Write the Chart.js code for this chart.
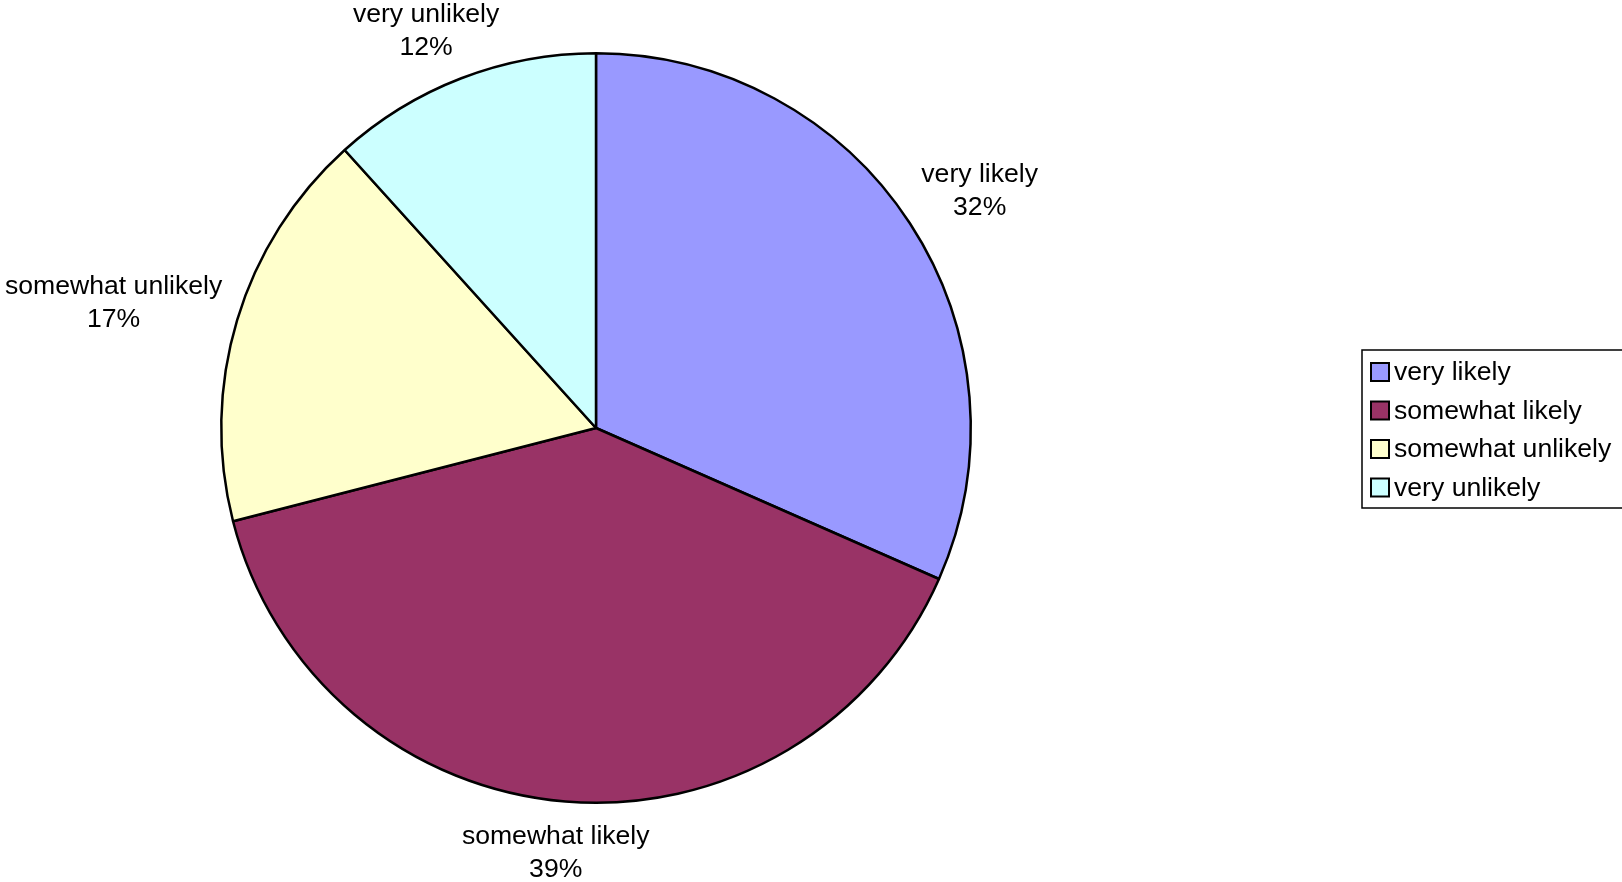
<!DOCTYPE html>
<html>
<head>
<meta charset="utf-8">
<script src="https://cdn.jsdelivr.net/npm/chart.js@4.4.0/dist/chart.umd.min.js"></script>
<style>
  html, body { margin: 0; padding: 0; background: #fff; }
  #grafica { display: block; }
</style>
</head>
<body>
<canvas id="grafica" width="1622" height="882"></canvas>
<script>
const categorias = ['very likely', 'somewhat likely', 'somewhat unlikely', 'very unlikely'];
const valores = [31.6, 39.4, 17.3, 11.7];
const colores = ['#9999FF', '#993366', '#FFFFCC', '#CCFFFF'];

const FUENTE = '26.6px "Liberation Sans", Arial, sans-serif';
const ALTO_LINEA = 33;

// etiquetas fuera del pastel: nombre + porcentaje
const etiquetasExternas = {
    id: 'etiquetasExternas',
    afterDatasetsDraw(chart) {
        const ctx = chart.ctx;
        const meta = chart.getDatasetMeta(0);
        const total = valores.reduce((a, b) => a + b, 0);
        ctx.save();
        ctx.font = FUENTE;
        ctx.fillStyle = '#000';
        ctx.textAlign = 'center';
        ctx.textBaseline = 'middle';
        meta.data.forEach((arc, i) => {
            const p = arc.getProps(['x', 'y', 'startAngle', 'endAngle', 'outerRadius'], true);
            const medio = (p.startAngle + p.endAngle) / 2;
            const cx = Math.cos(medio), cy = Math.sin(medio);
            const lineas = [categorias[i], Math.round(valores[i] / total * 100) + '%'];
            const w = Math.max(...lineas.map(t => ctx.measureText(t).width));
            const h = ALTO_LINEA * lineas.length;
            const r = p.outerRadius + 25;
            let x = p.x + r * cx + (w / 2) * cx;
            let y = p.y + r * cy + (h / 2) * cy;
            // mantener dentro del lienzo
            x = Math.min(Math.max(x, w / 2 + 5), chart.width - w / 2 - 5);
            y = Math.min(Math.max(y, h / 2 - 2), chart.height - h / 2 + 4);
            lineas.forEach((t, k) => {
                ctx.fillText(t, x, y - h / 2 + ALTO_LINEA * (k + 0.5));
            });
        });
        ctx.restore();
    }
};

// leyenda con recuadro a la derecha
const leyenda = {
    id: 'leyenda',
    afterDraw(chart) {
        const ctx = chart.ctx;
        const left = 1362, top = 350, paso = 38.5;
        ctx.save();
        ctx.font = FUENTE;
        const anchoTexto = Math.max(...categorias.map(t => ctx.measureText(t).width));
        const ancho = 32 + anchoTexto + 14;
        const alto = paso * categorias.length + 4;
        ctx.strokeStyle = '#000';
        ctx.lineWidth = 1.5;
        ctx.strokeRect(left, top, ancho, alto);
        ctx.textAlign = 'left';
        ctx.textBaseline = 'middle';
        categorias.forEach((c, i) => {
            const yc = top + 22 + paso * i;
            ctx.fillStyle = colores[i];
            ctx.fillRect(left + 9, yc - 9, 18, 18);
            ctx.lineWidth = 2;
            ctx.strokeRect(left + 9, yc - 9, 18, 18);
            ctx.fillStyle = '#000';
            ctx.fillText(c, left + 32, yc + 1);
        });
        ctx.restore();
    }
};

new Chart(document.getElementById('grafica'), {
    type: 'pie',
    data: {
        labels: categorias,
        datasets: [{
            data: valores,
            backgroundColor: colores,
            borderColor: '#000',
            borderWidth: 2.5,
        }],
    },
    options: {
        responsive: false,
        animation: false,
        layout: { padding: { left: 220, right: 650, top: 52, bottom: 78 } },
        plugins: {
            legend: { display: false },
            tooltip: { enabled: false },
        },
    },
    plugins: [etiquetasExternas, leyenda],
});
</script>
</body>
</html>
